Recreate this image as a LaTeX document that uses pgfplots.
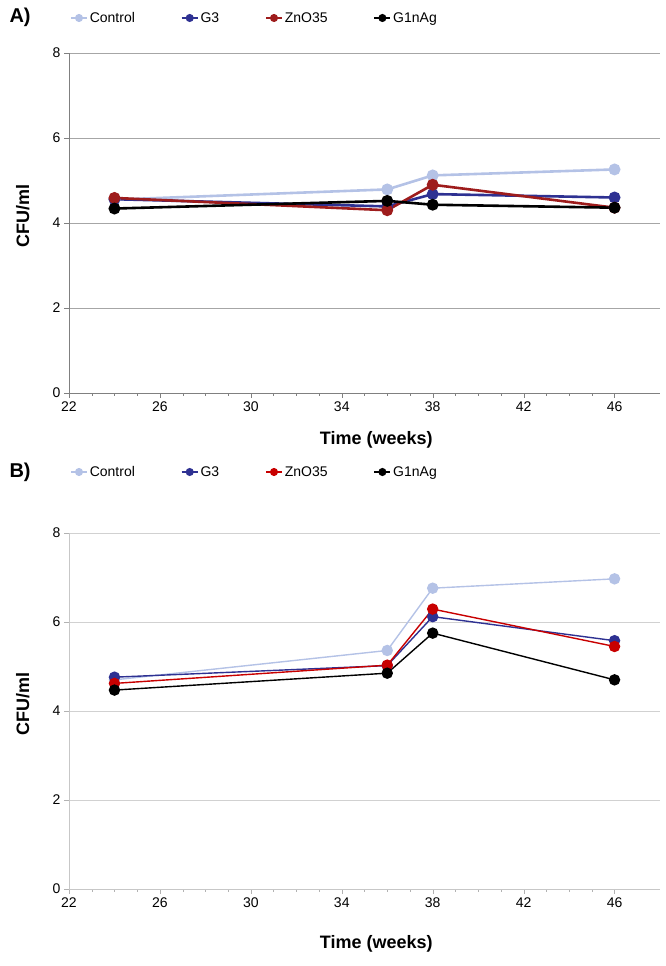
\documentclass[border=0pt]{standalone}
\usepackage{fontspec}
\setmainfont{Liberation Sans}
\usepackage{pgfplots}
\pgfplotsset{compat=1.18}

\definecolor{ctrl}{HTML}{B4C2E6}
\definecolor{gthree}{HTML}{2E3192}
\definecolor{znoA}{HTML}{9E1C1C}
\definecolor{znoB}{HTML}{C80000}

\pgfplotsset{
  panel/.style={
    scale only axis, width=591pt,
    xmin=22, xmax=48, ymin=0, ymax=8,
    xtick={22,26,...,46}, minor x tick num=3,
    ytick={0,2,...,8},
    axis x line*=bottom, axis y line*=left,
    tick align=outside, major tick length=5pt, minor tick length=3pt,
    ymajorgrids,
    tick label style={font=\fontsize{14}{16}\selectfont},
    /pgf/number format/assume math mode=true,
    xlabel={Time (weeks)}, ylabel={CFU/ml},
    label style={font=\fontsize{18}{20}\selectfont\bfseries},
    ylabel style={at={(axis description cs:-0.078,0.52)}, anchor=center},
    legend columns=4,
    legend cell align=left,
    legend style={draw=none, fill=none, inner sep=0pt,
      font=\fontsize{14}{16}\selectfont,
      at={(axis description cs:0,1)}, anchor=west,
      /tikz/every even column/.append style={column sep=44pt}},
    legend image code/.code={
      \draw[mark repeat=2,mark phase=2,#1,mark size=3.2pt,line width=1.6pt]
        plot coordinates {(0pt,0pt) (8pt,0pt) (16pt,0pt)};},
  },
}

\begin{document}
\begin{tikzpicture}
\useasboundingbox (0,0) rectangle (666pt,966pt);

% panel A
\begin{axis}[panel, at={(69pt,573pt)}, height=340pt,
  axis line style={draw=black!50, line width=0.9pt},
  tick style={black!50},
  grid style={black!35, line width=0.8pt},
  xlabel style={at={(axis description cs:0.52,0)}, anchor=center, yshift=-47pt},
  legend style={xshift=1pt, yshift=35pt},
  every axis plot/.append style={line width=2.6pt, mark=*, mark size=4.6pt},
]
\addplot[ctrl, mark options={fill=ctrl}] coordinates {(24,4.55) (36,4.79) (38,5.12) (46,5.26)};
\addlegendentry{Control}
\addplot[gthree, mark options={fill=gthree}] coordinates {(24,4.56) (36,4.39) (38,4.68) (46,4.60)};
\addlegendentry{G3}
\addplot[znoA, mark options={fill=znoA}] coordinates {(24,4.59) (36,4.30) (38,4.90) (46,4.36)};
\addlegendentry{ZnO35}
\addplot[black, mark options={fill=black}] coordinates {(24,4.34) (36,4.52) (38,4.43) (46,4.36)};
\addlegendentry{G1nAg}
\end{axis}

% panel B
\begin{axis}[panel, at={(69pt,77pt)}, height=356pt,
  axis line style={draw=black!22, line width=0.9pt},
  tick style={black!30},
  grid style={black!18, line width=0.9pt},
  xlabel style={at={(axis description cs:0.52,0)}, anchor=center, yshift=-55pt},
  legend style={xshift=1pt, yshift=61pt},
  every axis plot/.append style={line width=1.4pt, mark=*, mark size=5pt},
]
\addplot[ctrl, mark options={fill=ctrl}] coordinates {(24,4.70) (36,5.36) (38,6.76) (46,6.97)};
\addlegendentry{Control}
\addplot[gthree, mark options={fill=gthree}] coordinates {(24,4.76) (36,5.02) (38,6.12) (46,5.58)};
\addlegendentry{G3}
\addplot[znoB, mark options={fill=znoB}] coordinates {(24,4.62) (36,5.03) (38,6.29) (46,5.45)};
\addlegendentry{ZnO35}
\addplot[black, mark options={fill=black}] coordinates {(24,4.47) (36,4.85) (38,5.75) (46,4.70)};
\addlegendentry{G1nAg}
\end{axis}

\node[anchor=west, font=\fontsize{20}{22}\selectfont\bfseries] at (6pt,949pt) {A)};
\node[anchor=west, font=\fontsize{20}{22}\selectfont\bfseries] at (6pt,494pt) {B)};
\end{tikzpicture}
\end{document}
